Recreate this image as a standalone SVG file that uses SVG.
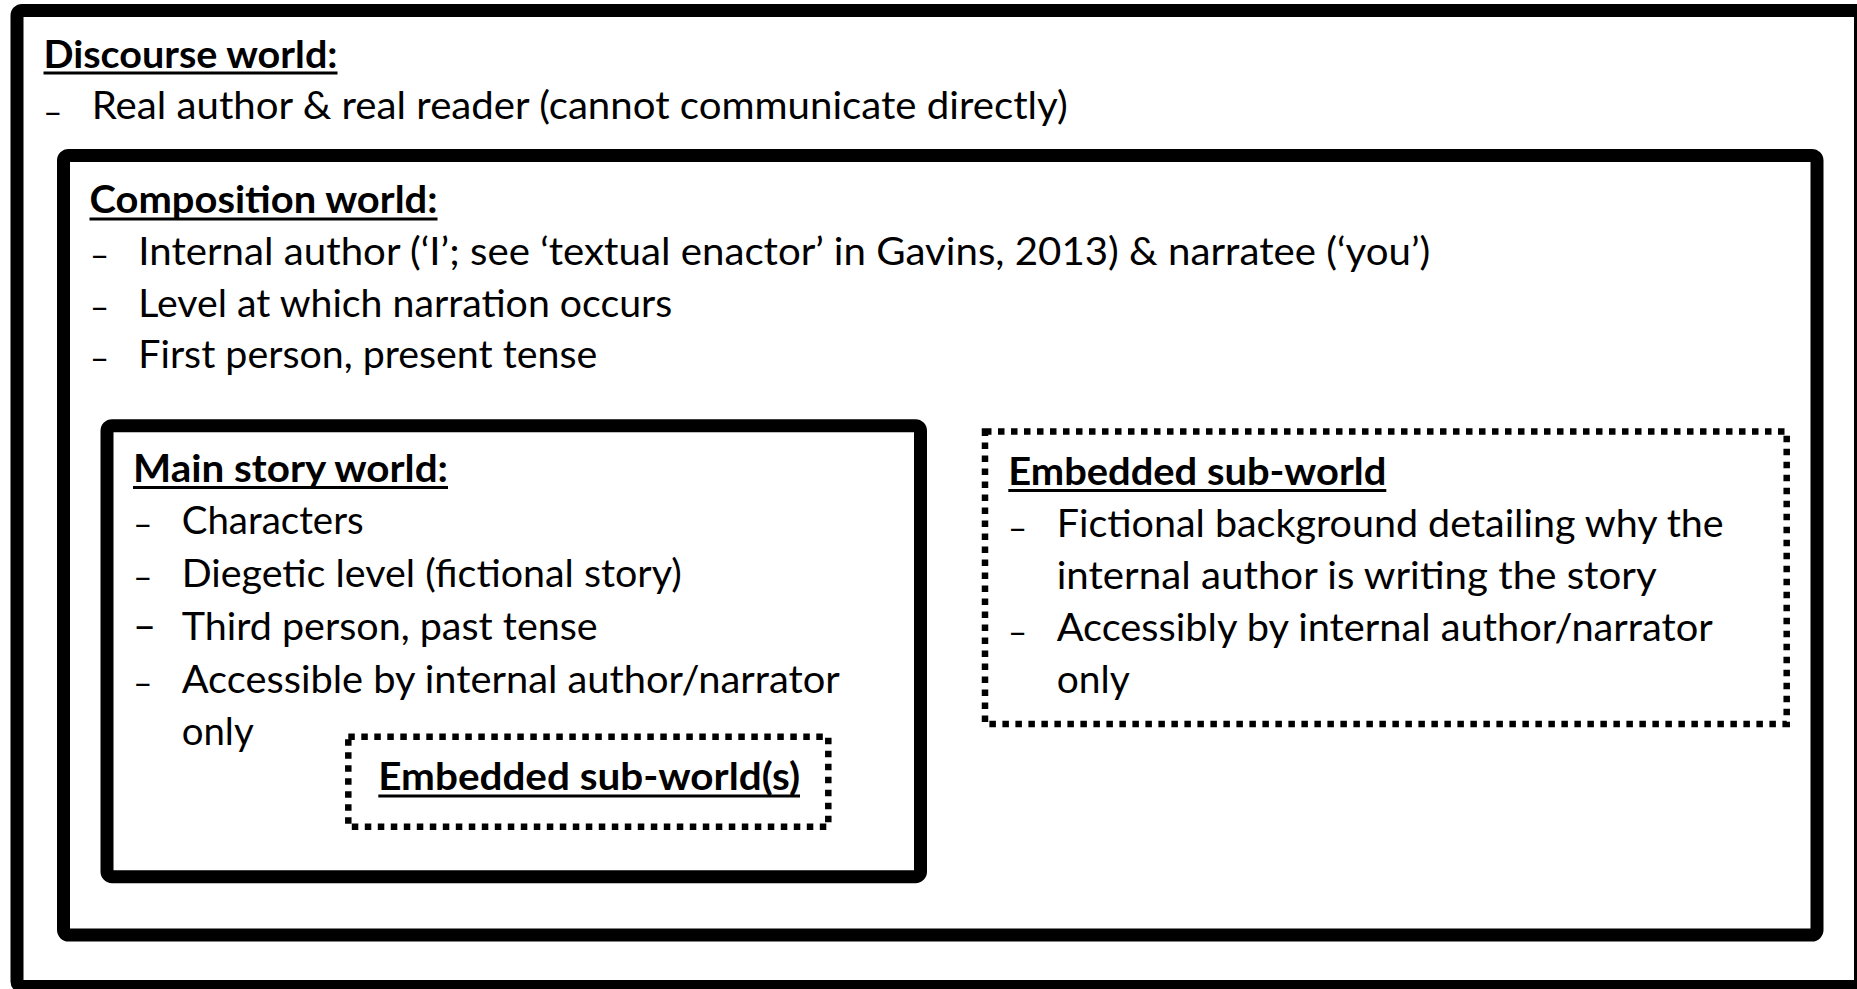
<svg xmlns="http://www.w3.org/2000/svg" width="1857" height="989" viewBox="0 0 1857 989">
<style>
.frame{fill:none;stroke:#000;stroke-width:13;stroke-linejoin:round}
.dot{fill:none;stroke:#000;stroke-width:6.5;stroke-dasharray:6.5 6.5}
.t{font-family:Lato,"Liberation Sans",sans-serif;font-size:38.8px;fill:#000}
.h{font-family:Lato,"Liberation Sans",sans-serif;font-size:38.8px;font-weight:bold;fill:#000}
.b{font-family:Lato,"Liberation Sans",sans-serif;font-size:33px;fill:#000}
.bb{font-family:Lato,"Liberation Sans",sans-serif;font-size:40px;fill:#000}
.u{stroke:#000;stroke-width:3}
</style>
<rect width="1857" height="989" fill="#fff"/>
<g id="discourse-world">
<rect class="frame" x="17" y="10.5" width="1843.5" height="976" rx="5"/>
<text class="h" x="43.5" y="67.7" textLength="294" lengthAdjust="spacingAndGlyphs">Discourse world:</text>
<line class="u" x1="43.5" y1="73" x2="337.5" y2="73"/>
<text class="b" x="43.3" y="124">–</text>
<text class="t" x="91.7" y="119.3" textLength="976" lengthAdjust="spacingAndGlyphs">Real author &amp; real reader (cannot communicate directly)</text>
</g>
<g id="composition-world">
<rect class="frame" x="63.5" y="155.5" width="1753.5" height="779.5" rx="5"/>
<text class="h" x="89.5" y="213.3" textLength="348" lengthAdjust="spacingAndGlyphs">Composition world:</text>
<line class="u" x1="89.5" y1="219" x2="437.5" y2="219"/>
<text class="b" x="90" y="267">–</text>
<text class="t" x="138.3" y="265" textLength="1292" lengthAdjust="spacingAndGlyphs">Internal author (‘I’; see ‘textual enactor’ in Gavins, 2013) &amp; narratee (‘you’)</text>
<text class="b" x="90" y="319">–</text>
<text class="t" x="138.3" y="317" textLength="534" lengthAdjust="spacingAndGlyphs">Level at which narration occurs</text>
<text class="b" x="90" y="370">–</text>
<text class="t" x="138.3" y="368" textLength="459" lengthAdjust="spacingAndGlyphs">First person, present tense</text>
</g>
<g id="main-story-world">
<rect class="frame" x="107" y="425.7" width="813.5" height="451" rx="5"/>
<text class="h" x="133" y="481.7" textLength="315" lengthAdjust="spacingAndGlyphs">Main story world:</text>
<line class="u" x1="133" y1="487.5" x2="448" y2="487.5"/>
<text class="b" x="133.3" y="536">–</text>
<text class="t" x="181.7" y="533.5" textLength="182" lengthAdjust="spacingAndGlyphs">Characters</text>
<text class="b" x="133.3" y="589">–</text>
<text class="t" x="181.7" y="586.5" textLength="500" lengthAdjust="spacingAndGlyphs">Diegetic level (fictional story)</text>
<text class="bb" x="133" y="640">–</text>
<text class="t" x="181.7" y="639.5" textLength="416" lengthAdjust="spacingAndGlyphs">Third person, past tense</text>
<text class="b" x="133.3" y="695">–</text>
<text class="t" x="181.7" y="692.5" textLength="658" lengthAdjust="spacingAndGlyphs">Accessible by internal author/narrator</text>
<text class="t" x="181.7" y="745" textLength="72" lengthAdjust="spacingAndGlyphs">only</text>
</g>
<g id="embedded-sub-worlds">
<rect class="dot" x="348.3" y="736.7" width="480" height="90"/>
<text class="h" x="378.3" y="790" textLength="421.7" lengthAdjust="spacingAndGlyphs">Embedded sub-world(s)</text>
<line class="u" x1="378.3" y1="796" x2="800" y2="796"/>
</g>
<g id="embedded-sub-world">
<rect class="dot" x="985" y="431.5" width="801.7" height="292.5"/>
<text class="h" x="1008.3" y="485" textLength="378" lengthAdjust="spacingAndGlyphs">Embedded sub-world</text>
<line class="u" x1="1008.3" y1="490.5" x2="1386.3" y2="490.5"/>
<text class="b" x="1008" y="540">–</text>
<text class="t" x="1056.7" y="537" textLength="667" lengthAdjust="spacingAndGlyphs">Fictional background detailing why the</text>
<text class="t" x="1056.7" y="589" textLength="600" lengthAdjust="spacingAndGlyphs">internal author is writing the story</text>
<text class="b" x="1008" y="644">–</text>
<text class="t" x="1056.7" y="641" textLength="656" lengthAdjust="spacingAndGlyphs">Accessibly by internal author/narrator</text>
<text class="t" x="1056.7" y="693" textLength="73" lengthAdjust="spacingAndGlyphs">only</text>
</g>
<g id="connectors"></g>
</svg>
